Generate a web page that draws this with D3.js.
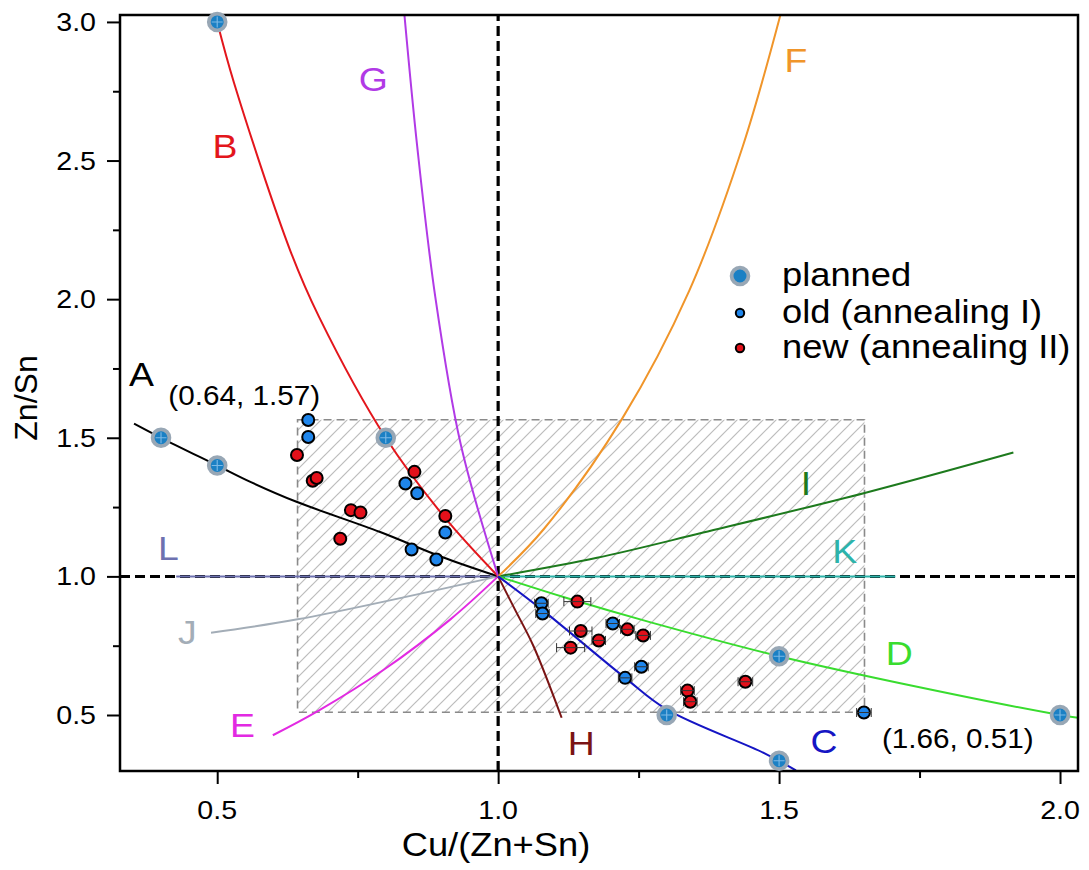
<!DOCTYPE html>
<html>
<head>
<meta charset="utf-8">
<script src="https://cdn.jsdelivr.net/npm/d3@7"></script>
<style>
  body { margin: 0; background: #fff; }
  text { font-family: "Liberation Sans", Arial, sans-serif; }
</style>
</head>
<body>
<div id="chart"></div>
<script>
/* ---------------- DATA ---------------- */
const xMajor = [0.5, 1.0, 1.5, 2.0];
const xMinor = [0.75, 1.25, 1.75];
const yMajor = [0.5, 1.0, 1.5, 2.0, 2.5, 3.0];
const yMinor = [0.75, 1.25, 1.75, 2.25, 2.75];

// [Cu/(Zn+Sn), Zn/Sn]
const planned = [[0.5, 3.0], [0.4, 1.5], [0.5, 1.4], [0.8, 1.5], [1.3, 0.5], [1.5, 0.335], [1.5, 0.712], [2.0, 0.5]];

// [Cu/(Zn+Sn), Zn/Sn, x error]
const oldAnneal = [
  [0.662, 1.564, 0], [0.662, 1.503, 0], [0.835, 1.335, 0], [0.856, 1.300, 0],
  [0.906, 1.158, 0], [0.846, 1.097, 0], [0.890, 1.061, 0], [1.077, 0.903, 0.012],
  [1.079, 0.866, 0.012], [1.204, 0.830, 0.012], [1.255, 0.674, 0.012], [1.226, 0.634, 0.012],
  [1.651, 0.509, 0.013]
];
const newAnneal = [
  [0.642, 1.438, 0], [0.670, 1.345, 0], [0.677, 1.355, 0], [0.738, 1.239, 0],
  [0.755, 1.230, 0], [0.719, 1.136, 0], [0.851, 1.377, 0], [0.906, 1.218, 0],
  [1.141, 0.909, 0.024], [1.147, 0.803, 0.02], [1.230, 0.809, 0.012], [1.258, 0.787, 0.013],
  [1.179, 0.769, 0.012], [1.129, 0.743, 0.025], [1.337, 0.588, 0.012], [1.342, 0.548, 0.012],
  [1.440, 0.620, 0.013]
];

// composition lines
const curveA = [[0.352, 1.551], [0.4, 1.5], [0.5, 1.4], [0.56, 1.34], [0.64, 1.27], [0.79, 1.16], [0.9, 1.07], [1, 1]];
const curveB = [[0.5, 3.0], [0.53, 2.78], [0.631, 2.17], [0.681, 1.937], [0.8, 1.5], [0.906, 1.21], [1, 1]];
const curveC = [[1, 1], [1.078, 0.88], [1.226, 0.634], [1.3, 0.52], [1.476, 0.36], [1.53, 0.3]];
const curveD = [[1, 1], [1.125, 0.92], [1.27, 0.835], [1.5, 0.712], [1.75, 0.6], [2.0, 0.5], [2.04, 0.488]];
const curveE = [[0.599, 0.427], [0.679, 0.514], [0.797, 0.664], [0.915, 0.845], [1, 1]];
const curveF = [[1, 1], [1.081, 1.17], [1.221, 1.57], [1.34, 2.03], [1.435, 2.549], [1.503, 3.03]];
const curveG = [[0.833, 3.03], [0.856, 2.55], [0.888, 2.01], [0.933, 1.48], [1, 1]];
const curveH = [[1, 1], [1.03, 0.88], [1.063, 0.748], [1.113, 0.49]];
const curveI = [[1, 1], [1.176, 1.067], [1.365, 1.158], [1.654, 1.302], [1.917, 1.447]];
const curveJ = [[0.489, 0.797], [0.643, 0.845], [1, 1]];
const curveK = [[1, 1], [1.707, 1]];
const curveL = [[0.427, 1], [1, 1]];

const regionCorners = [[0.643, 1.565], [1.652, 0.51]];
const regionNotes = ["(0.64, 1.57)", "(1.66, 0.51)"];
const legendNames = ["planned", "old (annealing I)", "new (annealing II)"];

/* ---------------- SETUP ---------------- */
const width = 1089, height = 870;
const frame = {left: 120, right: 1078, top: 15, bottom: 771};
const SX = 1.1;   // the original text is a bit wide

const svg = d3.select("#chart").append("svg")
  .attr("width", width).attr("height", height)
  .style("background", "#fff");

const x = d3.scaleLinear().domain([0.327, 2.032]).range([frame.left, frame.right]);
const y = d3.scaleLinear().domain([0.298, 3.025]).range([frame.bottom, frame.top]);
const fmt = d3.format(".1f");

const defs = svg.append("defs");
defs.append("clipPath").attr("id", "plotClip")
  .append("rect")
  .attr("x", frame.left).attr("y", frame.top)
  .attr("width", frame.right - frame.left).attr("height", frame.bottom - frame.top);

const hatch = defs.append("pattern")
  .attr("id", "hatch").attr("patternUnits", "userSpaceOnUse")
  .attr("width", 13).attr("height", 13);
[[0, 13, 13, 0], [-3, 3, 3, -3], [10, 16, 16, 10]].forEach(l => {
  hatch.append("line")
    .attr("x1", l[0]).attr("y1", l[1]).attr("x2", l[2]).attr("y2", l[3])
    .attr("stroke", "#bcbcbc").attr("stroke-width", 1.2);
});

function label(g, px, py, s, size, color, anchor) {
  return g.append("text")
    .attr("transform", `translate(${px},${py}) scale(${SX},1)`)
    .attr("text-anchor", anchor || "start")
    .attr("font-size", size)
    .attr("fill", color || "#000")
    .text(s);
}

const plot = svg.append("g").attr("clip-path", "url(#plotClip)");

/* ---------------- HATCHED REGION ---------------- */
const [c0, c1] = regionCorners;
plot.append("rect")
  .attr("x", x(c0[0])).attr("y", y(c0[1]))
  .attr("width", x(c1[0]) - x(c0[0])).attr("height", y(c1[1]) - y(c0[1]))
  .attr("fill", "url(#hatch)")
  .attr("stroke", "#8a8a8a").attr("stroke-width", 1.6)
  .attr("stroke-dasharray", "8 5");

/* ---------------- REFERENCE LINES ---------------- */
plot.append("line")
  .attr("x1", x.range()[0]).attr("x2", x.range()[1])
  .attr("y1", y(1)).attr("y2", y(1))
  .attr("stroke", "#000").attr("stroke-width", 3).attr("stroke-dasharray", "10 5");
plot.append("line")
  .attr("x1", x(1)).attr("x2", x(1))
  .attr("y1", y.range()[0]).attr("y2", y.range()[1])
  .attr("stroke", "#000").attr("stroke-width", 3.2).attr("stroke-dasharray", "10 5");

/* ---------------- CURVES ---------------- */
const curves = [
  {pts: curveL, color: "#6d71b0"},
  {pts: curveK, color: "#2db3aa"},
  {pts: curveJ, color: "#a3adb7"},
  {pts: curveI, color: "#1d7a1d"},
  {pts: curveA, color: "#000000"},
  {pts: curveB, color: "#e3161c"},
  {pts: curveG, color: "#b13ae6"},
  {pts: curveF, color: "#f0952a"},
  {pts: curveE, color: "#e22ae2"},
  {pts: curveH, color: "#7a1414"},
  {pts: curveD, color: "#39dc2f"},
  {pts: curveC, color: "#1515c4"}
];

const line = d3.line()
  .x(d => x(d[0]))
  .y(d => y(d[1]))
  .curve(d3.curveCatmullRom.alpha(0.5));

curves.forEach(c => {
  plot.append("path")
    .datum(c.pts)
    .attr("fill", "none")
    .attr("stroke", c.color)
    .attr("stroke-width", 2)
    .attr("d", line);
});

/* ---------------- AXES ---------------- */
svg.append("rect")
  .attr("x", frame.left).attr("y", frame.top)
  .attr("width", frame.right - frame.left).attr("height", frame.bottom - frame.top)
  .attr("fill", "none").attr("stroke", "#000").attr("stroke-width", 2.5);

svg.append("g")
  .attr("transform", `translate(${frame.left},0)`)
  .call(d3.axisLeft(y).tickValues(yMajor).tickSize(13).tickFormat(""));
svg.append("g")
  .attr("transform", `translate(${frame.left},0)`)
  .call(d3.axisLeft(y).tickValues(yMinor).tickSize(7).tickFormat(""));
svg.append("g")
  .attr("transform", `translate(0,${frame.bottom})`)
  .call(d3.axisBottom(x).tickValues(xMajor).tickSize(13).tickFormat(""));
svg.append("g")
  .attr("transform", `translate(0,${frame.bottom})`)
  .call(d3.axisBottom(x).tickValues(xMinor).tickSize(7).tickFormat(""));

svg.selectAll(".domain").remove();
svg.selectAll(".tick line").attr("stroke", "#000").attr("stroke-width", 2);

const tickText = svg.append("g");
yMajor.forEach(v => label(tickText, frame.left - 24, y(v) + 9, fmt(v), 26, "#000", "end"));
xMajor.forEach(v => label(tickText, x(v), frame.bottom + 48, fmt(v), 26, "#000", "middle"));

label(svg, 496, 856, "Cu/(Zn+Sn)", 33, "#000", "middle");
svg.append("text")
  .attr("transform", "translate(37,398) rotate(-90)")
  .attr("text-anchor", "middle")
  .attr("font-size", 32)
  .text("Zn/Sn");

/* ---------------- POINTS ---------------- */
const marks = svg.append("g");

planned.forEach(d => {
  marks.append("circle")
    .attr("cx", x(d[0])).attr("cy", y(d[1])).attr("r", 8.4)
    .attr("fill", "#1b80c4").attr("stroke", "#98a7b5").attr("stroke-width", 3.8);
  marks.append("path")
    .attr("d", `M${x(d[0]) - 5.5},${y(d[1])}H${x(d[0]) + 5.5}M${x(d[0])},${y(d[1]) - 5.5}V${y(d[1]) + 5.5}`)
    .attr("stroke", "#7db9e6").attr("stroke-width", 1.1);
});

function drawMeasured(data, fill) {
  data.forEach(d => {
    marks.append("circle")
      .attr("cx", x(d[0])).attr("cy", y(d[1])).attr("r", 6)
      .attr("fill", fill).attr("stroke", "#000").attr("stroke-width", 2);
  });
  data.filter(d => d[2] > 0).forEach(d => {
    const xa = x(d[0] - d[2]), xb = x(d[0] + d[2]), yy = y(d[1]);
    marks.append("path")
      .attr("d", `M${xa},${yy}H${xb}M${xa},${yy - 4.5}V${yy + 4.5}M${xb},${yy - 4.5}V${yy + 4.5}`)
      .attr("fill", "none").attr("stroke", "#333").attr("stroke-width", 1);
  });
}
drawMeasured(oldAnneal, "#1f86ec");
drawMeasured(newAnneal, "#e3101a");

/* ---------------- CURVE LABELS ---------------- */
const curveLabels = [
  ["A", 0.365, 1.687, "#000000"],
  ["B", 0.514, 2.51, "#e3161c"],
  ["G", 0.778, 2.751, "#b13ae6"],
  ["F", 1.530, 2.82, "#f0952a"],
  ["I", 1.548, 1.294, "#1d7a1d"],
  ["K", 1.617, 1.049, "#2db3aa"],
  ["L", 0.413, 1.06, "#6d71b0"],
  ["J", 0.447, 0.757, "#a3adb7"],
  ["E", 0.545, 0.421, "#e22ae2"],
  ["H", 1.148, 0.356, "#7a1414"],
  ["C", 1.580, 0.363, "#1515c4"],
  ["D", 1.714, 0.681, "#39dc2f"]
];
curveLabels.forEach(l => label(svg, x(l[1]), y(l[2]), l[0], 34, l[3], "middle"));

label(svg, x(0.413), y(1.619), regionNotes[0], 27, "#000");
label(svg, x(1.683), y(0.381), regionNotes[1], 27, "#000");

/* ---------------- LEGEND ---------------- */
const legend = svg.append("g");
const rows = [276, 313, 348];
legend.append("circle").attr("cx", 740).attr("cy", rows[0]).attr("r", 8.4)
  .attr("fill", "#1b80c4").attr("stroke", "#98a7b5").attr("stroke-width", 3.8);
legend.append("circle").attr("cx", 740).attr("cy", rows[1]).attr("r", 4.2)
  .attr("fill", "#1f86ec").attr("stroke", "#000").attr("stroke-width", 2);
legend.append("circle").attr("cx", 740).attr("cy", rows[2]).attr("r", 4.2)
  .attr("fill", "#e3101a").attr("stroke", "#000").attr("stroke-width", 2);
legendNames.forEach((n, i) => label(legend, 782, rows[i] + 10, n, 33, "#000"));
</script>
</body>
</html>
